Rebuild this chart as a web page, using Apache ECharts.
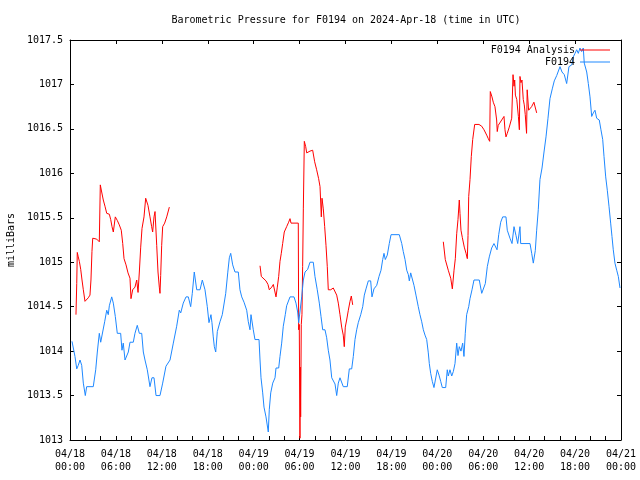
<!DOCTYPE html>
<html>
<head>
<meta charset="utf-8">
<script src="https://cdn.jsdelivr.net/npm/echarts@6/dist/echarts.min.js"></script>
<style>html,body{margin:0;padding:0;background:#fff}#c{width:640px;height:480px}</style>
</head>
<body>
<div id="c"></div>
<script>
// hours since 2024-04-18 00:00 UTC
const xTickLabels = ['04/18\n00:00','04/18\n06:00','04/18\n12:00','04/18\n18:00','04/19\n00:00','04/19\n06:00','04/19\n12:00','04/19\n18:00','04/20\n00:00','04/20\n06:00','04/20\n12:00','04/20\n18:00','04/21\n00:00'];
const seriesNames = ['F0194 Analysis', 'F0194'];

const stationHours = [0.26,0.65,0.88,1.08,1.31,1.53,1.74,2.0,2.18,3.04,3.36,3.57,3.83,4.01,4.27,4.53,4.80,5.00,5.14,5.45,5.66,5.92,6.18,6.62,6.79,6.96,7.19,7.62,7.84,8.27,8.49,8.79,9.06,9.37,9.58,9.80,10.10,10.45,10.71,10.98,11.24,11.76,12.11,12.54,13.07,13.50,13.94,14.28,14.47,14.80,15.16,15.46,15.77,15.98,16.24,16.56,16.99,17.29,17.64,17.94,18.16,18.42,18.55,18.72,18.86,19.04,19.25,19.60,19.90,20.12,20.35,20.61,20.82,21.00,21.26,21.56,21.99,22.21,22.44,22.74,23.09,23.30,23.52,23.65,23.95,24.17,24.70,24.83,24.96,25.18,25.35,25.61,25.78,25.91,26.04,26.23,26.49,26.79,26.92,27.27,27.44,27.66,27.87,28.13,28.31,28.75,29.27,29.53,29.75,29.88,30.05,30.28,30.49,30.71,31.06,31.36,31.79,32.01,32.31,32.58,32.80,33.02,33.32,33.54,33.75,33.97,34.20,34.40,34.63,34.85,35.06,35.28,35.50,35.71,36.23,36.50,36.81,37.02,37.24,37.46,37.67,37.99,38.25,38.46,38.68,38.98,39.29,39.46,39.72,40.08,40.38,40.64,40.86,41.03,41.20,41.46,41.72,41.95,43.03,43.35,43.55,43.78,44.00,44.21,44.34,44.52,44.78,44.95,45.21,45.51,45.73,45.96,46.17,46.39,46.61,46.82,46.95,47.13,47.34,47.56,47.82,47.99,48.22,48.44,48.65,49.09,49.30,49.43,49.65,49.88,50.09,50.31,50.53,50.70,50.87,51.09,51.31,51.48,51.65,51.83,52.10,52.27,52.53,52.79,53.48,53.80,53.97,54.27,54.53,54.79,55.10,55.40,55.66,55.80,56.02,56.28,56.54,56.97,57.14,57.49,57.76,58.02,58.28,58.50,58.80,58.89,60.11,60.33,60.54,60.80,60.98,61.19,61.41,61.68,61.94,62.20,62.46,62.72,63.02,63.28,63.60,63.81,64.03,64.29,64.59,64.90,65.20,65.56,65.77,65.99,66.21,66.42,66.64,66.86,67.07,67.20,67.52,67.73,67.95,68.17,68.38,68.60,68.82,69.16,69.38,69.61,69.78,70.00,70.21,70.43,70.65,70.82,70.99,71.21,71.44,71.65,71.87];
const stationValues = [1014.11,1013.94,1013.80,1013.84,1013.90,1013.84,1013.64,1013.50,1013.60,1013.60,1013.79,1013.99,1014.20,1014.10,1014.10,1014.33,1014.46,1014.41,1014.51,1014.61,1014.54,1014.39,1014.20,1014.20,1014.01,1014.09,1013.90,1013.99,1014.10,1014.10,1014.20,1014.29,1014.20,1014.20,1013.99,1013.90,1013.79,1013.60,1013.70,1013.70,1013.50,1013.50,1013.64,1013.83,1013.90,1014.09,1014.28,1014.46,1014.43,1014.54,1014.61,1014.61,1014.50,1014.65,1014.89,1014.69,1014.69,1014.80,1014.69,1014.50,1014.32,1014.41,1014.32,1014.16,1014.05,1013.99,1014.22,1014.33,1014.41,1014.41,1014.65,1014.88,1015.05,1015.10,1014.97,1014.89,1014.89,1014.69,1014.61,1014.55,1014.46,1014.33,1014.24,1014.41,1014.24,1014.13,1014.13,1013.90,1013.70,1013.53,1013.37,1013.26,1013.26,1013.09,1013.34,1013.53,1013.64,1013.70,1013.81,1013.81,1013.94,1014.09,1014.28,1014.41,1014.51,1014.61,1014.61,1014.54,1014.44,1014.32,1014.32,1014.61,1014.80,1014.89,1014.92,1015.00,1015.00,1014.84,1014.69,1014.54,1014.39,1014.24,1014.24,1014.15,1014.01,1013.90,1013.70,1013.68,1013.63,1013.50,1013.64,1013.70,1013.68,1013.60,1013.60,1013.80,1013.80,1013.94,1014.13,1014.24,1014.32,1014.41,1014.50,1014.63,1014.70,1014.79,1014.79,1014.61,1014.70,1014.74,1014.84,1014.91,1015.03,1015.10,1015.03,1015.08,1015.21,1015.31,1015.31,1015.21,1015.12,1015.03,1014.91,1014.86,1014.79,1014.88,1014.88,1014.74,1014.63,1014.50,1014.41,1014.33,1014.24,1014.18,1014.13,1013.98,1013.86,1013.75,1013.66,1013.59,1013.59,1013.79,1013.73,1013.66,1013.59,1013.59,1013.79,1013.72,1013.79,1013.72,1013.77,1013.86,1014.09,1013.95,1014.05,1014.00,1014.09,1013.94,1014.20,1014.41,1014.50,1014.59,1014.69,1014.80,1014.80,1014.65,1014.63,1014.76,1014.95,1015.06,1015.16,1015.21,1015.21,1015.14,1015.31,1015.45,1015.51,1015.51,1015.36,1015.27,1015.21,1015.40,1015.30,1015.21,1015.40,1015.21,1015.21,1015.10,1014.99,1015.13,1015.36,1015.59,1015.93,1016.06,1016.24,1016.41,1016.62,1016.84,1016.95,1017.04,1017.10,1017.11,1017.20,1017.14,1017.11,1017.01,1017.20,1017.22,1017.31,1017.35,1017.39,1017.35,1017.41,1017.37,1017.41,1017.24,1017.14,1017.01,1016.86,1016.64,1016.68,1016.71,1016.62,1016.60,1016.49,1016.38,1016.19,1015.96,1015.81,1015.63,1015.44,1015.29,1015.14,1014.99,1014.91,1014.84,1014.71];

// null values mark the gaps between analysis runs
const analysisHours = [0.78,0.88,0.95,1.08,1.22,1.40,1.57,1.74,1.96,2.18,2.39,2.61,2.74,2.87,2.97,3.49,3.83,3.96,4.14,4.35,4.57,4.80,5.14,5.32,5.49,5.66,5.79,5.92,6.18,6.44,6.70,6.89,7.06,7.32,7.58,7.84,7.97,8.19,8.49,8.72,8.89,9.06,9.24,9.41,9.67,9.89,10.02,10.19,10.45,10.67,10.80,10.98,11.11,11.33,11.50,11.67,11.76,11.85,11.98,12.11,12.37,12.64,12.98,
  18.0,
  24.83,25.00,25.26,25.61,25.87,26.04,26.36,26.57,26.79,26.92,27.09,27.27,27.44,27.61,27.79,28.00,28.31,28.57,28.75,28.88,29.83,29.88,29.96,30.05,30.09,30.14,30.22,30.31,30.40,30.49,30.62,30.80,30.93,31.36,31.71,31.97,32.23,32.49,32.67,32.84,32.93,33.10,33.28,33.45,33.62,33.75,34.07,34.40,34.63,34.85,35.06,35.28,35.50,35.71,35.84,35.97,36.15,36.37,36.59,36.76,36.94,
  42.0,
  48.78,49.04,49.43,49.75,49.96,50.18,50.35,50.53,50.70,50.87,50.96,51.09,51.26,51.52,51.75,51.92,52.01,52.10,52.27,52.44,52.62,52.88,53.44,53.80,54.10,54.45,54.66,54.84,54.92,55.14,55.31,55.53,55.75,55.83,55.96,56.19,56.41,56.71,56.84,56.97,57.14,57.40,57.72,57.89,58.02,58.11,58.20,58.38,58.59,58.72,58.80,58.93,59.06,59.23,59.36,59.49,59.66,59.74,59.93,60.32,60.62,60.98];
const analysisValues = [1014.41,1014.76,1015.11,1015.06,1015.01,1014.92,1014.80,1014.69,1014.56,1014.58,1014.60,1014.63,1014.80,1015.12,1015.27,1015.26,1015.23,1015.87,1015.79,1015.70,1015.63,1015.55,1015.54,1015.48,1015.40,1015.34,1015.32,1015.51,1015.47,1015.42,1015.36,1015.21,1015.04,1014.97,1014.88,1014.82,1014.59,1014.69,1014.72,1014.80,1014.66,1014.89,1015.17,1015.38,1015.51,1015.72,1015.72,1015.64,1015.51,1015.40,1015.34,1015.51,1015.57,1015.19,1014.89,1014.72,1014.65,1014.85,1015.19,1015.40,1015.44,1015.51,1015.62,
  null,
  1014.96,1014.84,1014.82,1014.79,1014.75,1014.69,1014.72,1014.75,1014.76,1014.61,1014.72,1014.84,1015.01,1015.10,1015.21,1015.34,1015.40,1015.45,1015.49,1015.44,1015.44,1014.24,1014.30,1013.02,1013.82,1013.26,1014.30,1014.41,1014.95,1015.60,1016.36,1016.30,1016.23,1016.25,1016.26,1016.13,1016.04,1015.94,1015.85,1015.51,1015.72,1015.60,1015.40,1015.19,1014.95,1014.69,1014.69,1014.71,1014.72,1014.63,1014.54,1014.41,1014.27,1014.18,1014.05,1014.27,1014.35,1014.46,1014.56,1014.62,1014.52,
  null,
  1015.23,1015.03,1014.91,1014.82,1014.70,1014.91,1015.04,1015.32,1015.48,1015.70,1015.55,1015.36,1015.28,1015.17,1015.10,1015.04,1015.30,1015.74,1015.93,1016.19,1016.38,1016.55,1016.55,1016.53,1016.49,1016.43,1016.39,1016.36,1016.92,1016.86,1016.80,1016.75,1016.60,1016.47,1016.54,1016.56,1016.60,1016.64,1016.49,1016.41,1016.45,1016.52,1016.62,1017.11,1016.98,1017.05,1016.88,1016.83,1016.64,1016.49,1017.09,1017.02,1017.05,1016.83,1016.77,1016.66,1016.45,1016.94,1016.71,1016.75,1016.80,1016.68];

const FONT = 'DejaVu Sans Mono';
const txt = {fontFamily: FONT, fontSize: 10, color: '#000'};
const axisLine = {show: true, onZero: false, lineStyle: {color: '#000', width: 1}};

const chart = echarts.init(document.getElementById('c'), null, {renderer: 'canvas'});
chart.setOption({
  animation: false,
  backgroundColor: '#fff',
  title: {
    text: 'Barometric Pressure for F0194 on 2024-Apr-18 (time in UTC)',
    left: 341, top: 10, textAlign: 'center',
    textStyle: Object.assign({fontWeight: 'normal'}, txt)
  },
  legend: [
    {data: [seriesNames[0]], right: 30, top: 45, align: 'right', icon: 'rect', itemWidth: 30, itemHeight: 1, itemGap: 0, padding: 0, textStyle: txt},
    {data: [seriesNames[1]], right: 30, top: 57, align: 'right', icon: 'rect', itemWidth: 30, itemHeight: 1, itemGap: 0, padding: 0, textStyle: txt}
  ],
  grid: {left: 70, right: 19, top: 40, bottom: 40, containLabel: false, outerBoundsMode: 'none'},
  xAxis: [
    {
      type: 'value', min: 0, max: 72, interval: 6, position: 'bottom',
      axisLine: axisLine,
      axisTick: {show: true, inside: true, length: 4, lineStyle: {color: '#000'}},
      minorTick: {show: true, splitNumber: 3, length: 4, lineStyle: {color: '#000'}},
      splitLine: {show: false},
      axisLabel: Object.assign({margin: 8, lineHeight: 13, formatter: v => xTickLabels[Math.round(v / 6)]}, txt)
    },
    {
      type: 'value', min: 0, max: 72, interval: 6, position: 'top',
      axisLine: axisLine,
      axisTick: {show: true, inside: true, length: 4, lineStyle: {color: '#000'}},
      splitLine: {show: false},
      axisLabel: {show: false}
    }
  ],
  yAxis: [
    {
      type: 'value', min: 1013, max: 1017.5, interval: 0.5, position: 'left',
      name: 'milliBars', nameLocation: 'middle', nameRotate: 90, nameGap: 50,
      nameTextStyle: txt,
      axisLine: axisLine,
      axisTick: {show: true, inside: true, length: 4, lineStyle: {color: '#000'}},
      splitLine: {show: false},
      axisLabel: Object.assign({margin: 7, formatter: v => String(Math.round(v * 10) / 10)}, txt)
    },
    {
      type: 'value', min: 1013, max: 1017.5, interval: 0.5, position: 'right',
      axisLine: axisLine,
      axisTick: {show: true, inside: true, length: 4, lineStyle: {color: '#000'}},
      splitLine: {show: false},
      axisLabel: {show: false}
    }
  ],
  series: [
    {
      name: seriesNames[0], type: 'line', xAxisIndex: 0, yAxisIndex: 0,
      data: analysisHours.map((h, i) => [h, analysisValues[i]]),
      showSymbol: false, symbol: 'none', connectNulls: false,
      lineStyle: {color: '#ff0000', width: 1}, itemStyle: {color: '#ff0000'}
    },
    {
      name: seriesNames[1], type: 'line', xAxisIndex: 0, yAxisIndex: 0,
      data: stationHours.map((h, i) => [h, stationValues[i]]),
      showSymbol: false, symbol: 'none',
      lineStyle: {color: '#1e88ff', width: 1}, itemStyle: {color: '#1e88ff'}
    }
  ]
});
</script>
</body>
</html>
